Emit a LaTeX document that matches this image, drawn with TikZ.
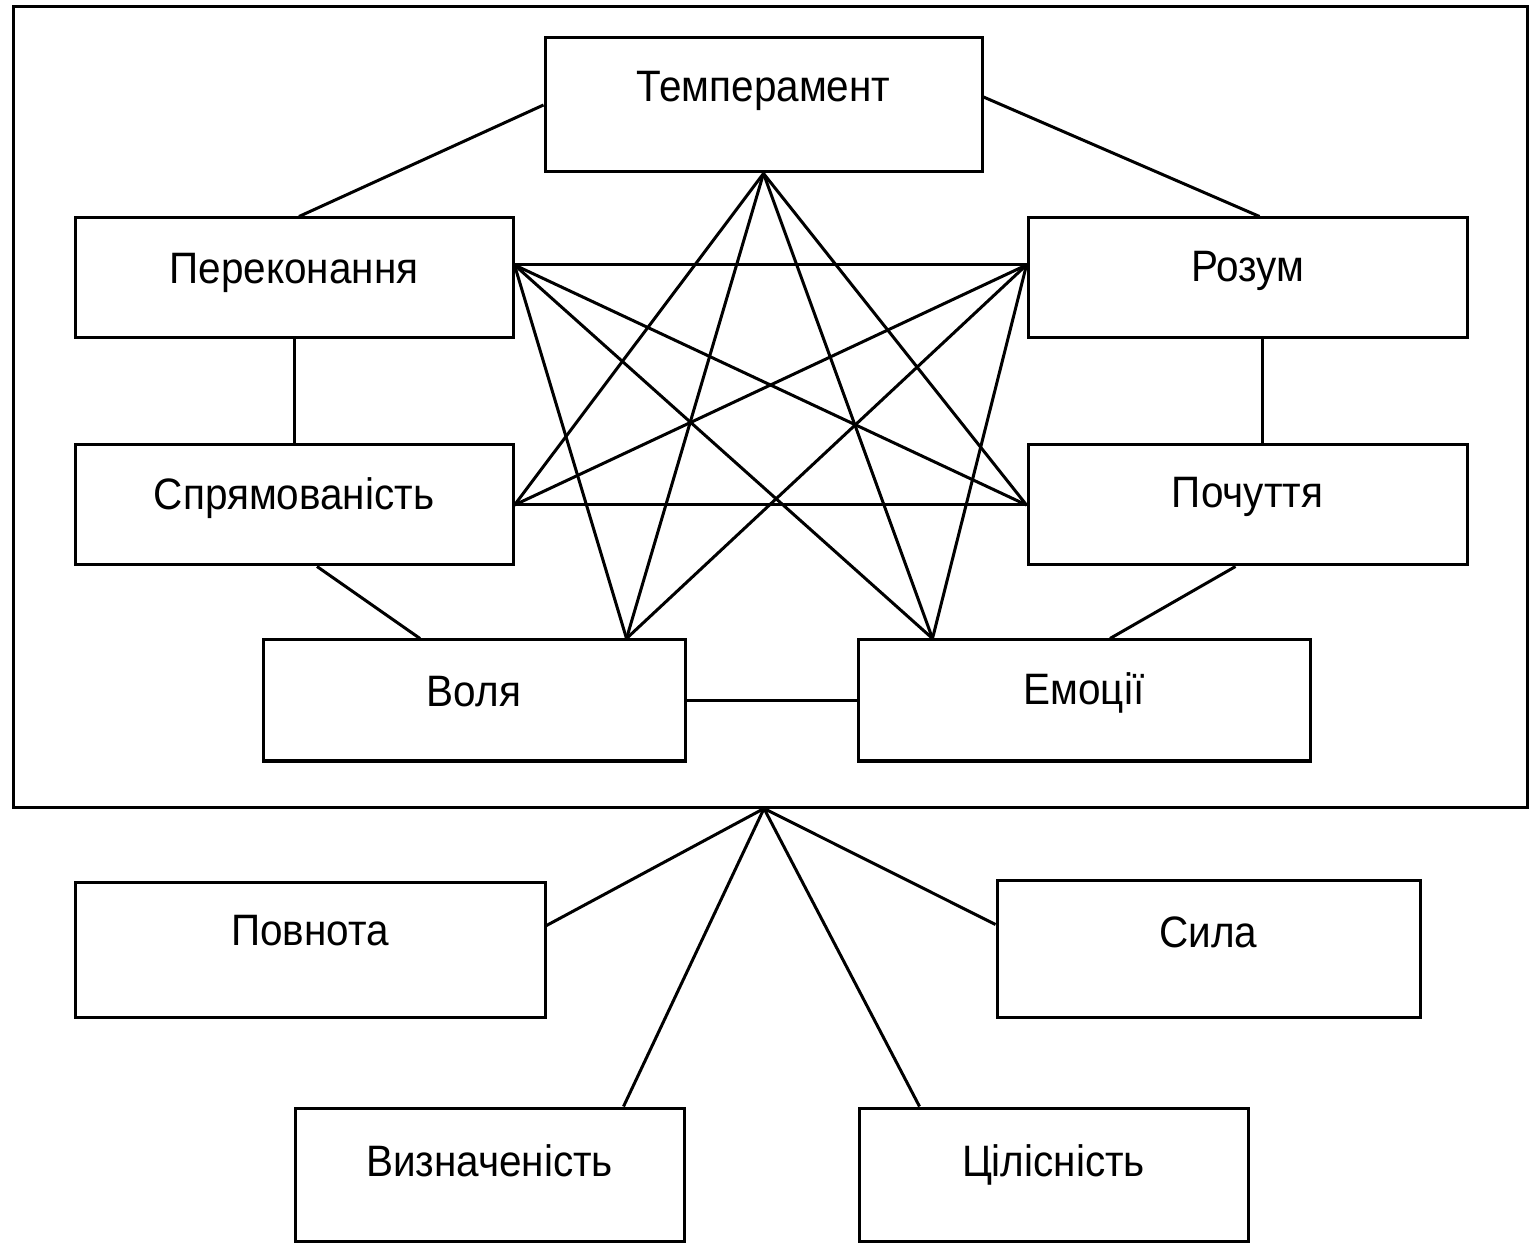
\documentclass[tikz,border=0pt]{standalone}
\usepackage{fontspec}
\setmainfont{Liberation Sans}[FakeStretch=0.92]

\begin{document}
\begin{tikzpicture}[x=0.5pt,y=-0.5pt]
\tikzset{
    block/.style={draw, line width=1.5pt, inner sep=0pt,
        text height=16pt, text depth=#1, font=\fontsize{22}{26}\selectfont},
    block/.default=11pt,
    link/.style={line width=1.5pt}
}
\useasboundingbox (0,0) rectangle (1532,1245);
% Frame
\node[draw, line width=1.5pt, minimum width=757pt, minimum height=400pt] (frame) at (770,407){};
% Blocks
\node[block=19pt, minimum width=218.5pt, minimum height=67pt] (temp) at (763.5,105){Темперамент};
\node[block=10pt, minimum width=219pt, minimum height=60pt] (perek) at (294,278){Переконання};
\node[block=12pt, minimum width=219.5pt, minimum height=60pt] (rozum) at (1247.5,278){Розум};
\node[block=11pt, minimum width=219pt, minimum height=60pt] (spr) at (294,505){Спрямованість};
\node[block=13pt, minimum width=219.5pt, minimum height=60pt] (poch) at (1247.5,505){Почуття};
\node[block=10pt, minimum width=211pt, minimum height=60.5pt] (volya) at (474,700.5){Воля};
\node[block=12pt, minimum width=226pt, minimum height=60.5pt] (emot) at (1084,700.5){Емоції};
\node[block=20pt, minimum width=235pt, minimum height=67.5pt] (povn) at (310,949.5){Повнота};
\node[block=17pt, minimum width=211.5pt, minimum height=68.5pt] (syla) at (1208.5,948.5){Сила};
\node[block=14pt, minimum width=194.5pt, minimum height=66.5pt] (vyzn) at (489.5,1174.5){Визначеність};
\node[block=14pt, minimum width=194.5pt, minimum height=66.5pt] (tsil) at (1053.5,1174.5){Цілісність};
% Ring
\draw[link] (temp.west) -- ([xshift=2.5pt]perek.north);
\draw[link] ([yshift=4pt]temp.east) -- ([xshift=6pt]rozum.north);
\draw[link] (perek.south) -- (spr.north);
\draw[link] ([xshift=7.5pt]rozum.south) -- ([xshift=7.5pt]poch.north);
\draw[link] ([xshift=11.5pt]spr.south) -- ([xshift=-27pt]volya.north);
\draw[link] ([xshift=-6pt]poch.south) -- ([xshift=13pt]emot.north);
\draw[link] (volya.east) -- (emot.west);
% Star
\coordinate (t) at (temp.south);
\coordinate (p) at ([yshift=6.5pt]perek.east);
\coordinate (r) at ([yshift=6.5pt]rozum.west);
\coordinate (s) at (spr.east);
\coordinate (c) at (poch.west);
\coordinate (v) at ([xshift=-30pt]volya.north east);
\coordinate (e) at ([xshift=38pt]emot.north west);
\draw[link] (p) -- (r);
\draw[link] (s) -- (c);
\foreach \a in {s,v,e,c} \draw[link] (t) -- (\a);
\foreach \a in {c,e,v} \draw[link] (p) -- (\a);
\foreach \a in {s,v,e} \draw[link] (r) -- (\a);
% Bottom
\coordinate (f) at ([xshift=-3pt]frame.south);
\draw[link] (f) -- ([yshift=12pt]povn.east);
\draw[link] (f) -- ([yshift=12pt]syla.west);
\draw[link] (f) -- ([xshift=67pt]vyzn.north);
\draw[link] (f) -- ([xshift=-67pt]tsil.north);
\end{tikzpicture}
\end{document}
